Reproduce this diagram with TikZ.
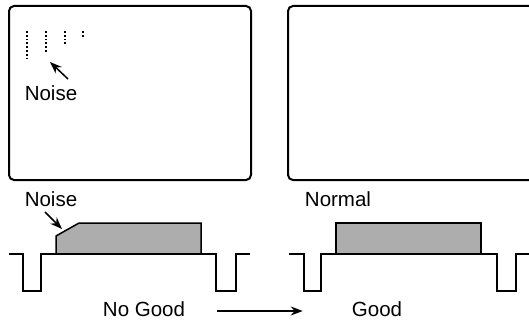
\documentclass[tikz,border=0pt]{standalone}
\usepackage{fontspec}
\setmainfont{Liberation Sans}
\usetikzlibrary{arrows.meta}
\tikzset{
	screen/.style={draw,line width=2pt,rounded corners=5pt},
	signal/.style={draw,line width=2pt,line join=miter},
	pulse/.style={draw,fill=black!32,line width=1.5pt},
	pointer/.style={draw,line width=1.5pt,-{Stealth[length=12pt,width=9pt]}},
	caption/.style={inner sep=0pt,font=\fontsize{20.5}{24}\selectfont}
}
\begin{document}
\begin{tikzpicture}[x=1pt,y=-1pt]
	\useasboundingbox (0,0) rectangle (529,323);
	\begin{scope}
	\clip (0,0) rectangle (529,323);
	\draw[screen] (9,6) rectangle (251,180);
	\draw[screen] (288,6) rectangle (534,180);
	\end{scope}
	% noise dots
	\foreach \px/\pend in {27/60,46/53,65/44,83/37}
		\draw[line width=1.8pt,dash pattern=on 1.8pt off 2pt] (\px,31) -- (\px,\pend);
	\node[caption] (noisea) at (51,93) {Noise};
	\coordinate (dots) at (50,62);
	\draw[pointer] (68,79) -- (dots);
	% waveforms
	\draw[pulse] (56,254) -- (56,236) -- (79,223) -- (201,223) -- (201,254) -- cycle;
	\draw[pulse] (336,254) rectangle (481,223);
	\draw[signal] (9,254) -- (23,254) -- (23,291) -- (41,291) -- (41,254) -- (216,254)
		-- (216,291) -- (236,291) -- (236,254) -- (250,254);
	\draw[signal] (289,254) -- (304,254) -- (304,291) -- (321,291) -- (321,254) -- (497,254)
		-- (497,291) -- (516,291) -- (516,254) -- (529,254);
	\node[caption] (noiseb) at (51,199) {Noise};
	\node[caption] (normal) at (338,199) {Normal};
	\coordinate (edge) at (62,229);
	\draw[pointer] (45,212) -- (edge);
	\node[caption] (nogood) at (144,309) {No Good};
	\node[caption] (good) at (377,309) {Good};
	\draw[pointer,shorten <=32pt,shorten >=49pt] (nogood.east |- 0,311) -- (good.west |- 0,311);
\end{tikzpicture}
\end{document}
